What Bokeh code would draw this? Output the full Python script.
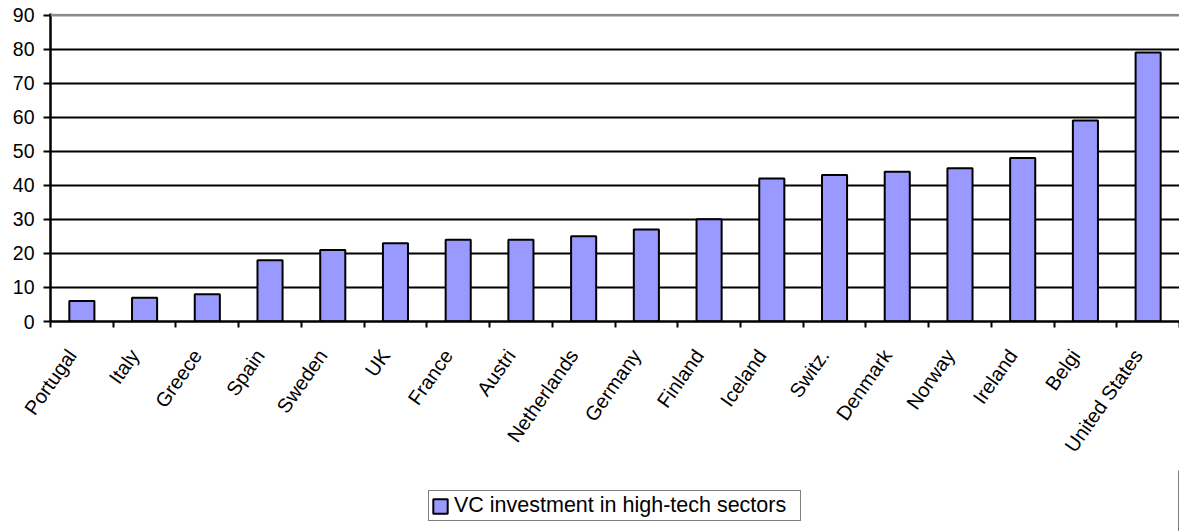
import math
from bokeh.plotting import figure
from bokeh.layouts import column
from bokeh.models import (ColumnDataSource, FixedTicker, Span, Legend, LegendItem)
from bokeh.embed import file_html
from bokeh.resources import INLINE

countries = ["Portugal", "Italy", "Greece", "Spain", "Sweden", "UK", "France",
             "Austri", "Netherlands", "Germany", "Finland", "Iceland", "Switz.",
             "Denmark", "Norway", "Ireland", "Belgi", "United States"]
values = [6, 7, 8, 18, 21, 23, 24, 24, 25, 27, 30, 42, 43, 44, 45, 48, 59, 79]
y_ticks = [0, 10, 20, 30, 40, 50, 60, 70, 80, 90]
series_name = "VC investment in high-tech sectors"

n = len(countries)
centers = [i + 0.5 for i in range(n)]
source = ColumnDataSource(dict(x=centers, top=values, name=countries))

FONT = "Liberation Sans"
BAR_FILL = "#9999FF"
LABEL_SHIFT = 0.16  # rotated labels end slightly left of the bar centre

p = figure(width=1179, height=470, output_backend="svg", toolbar_location=None,
           x_range=(0, n), y_range=(0, 90.45),
           min_border_left=50, min_border_right=0, min_border_top=13,
           min_border_bottom=149)
p.outline_line_color = None
p.background_fill_color = "white"
p.border_fill_color = "white"

# grid
p.xgrid.visible = False
p.ygrid.ticker = FixedTicker(ticks=y_ticks[1:-1])
p.ygrid.grid_line_color = "black"
p.ygrid.grid_line_width = 2
top_line = Span(location=90, dimension="width", line_color="#8c8c8c", line_width=2.8)
p.add_layout(top_line)

r = p.vbar(x="x", top="top", width=0.4, source=source, fill_color=BAR_FILL,
           line_color="black", line_width=2)

# y axis
p.yaxis.ticker = FixedTicker(ticks=y_ticks)
p.yaxis.axis_line_color = "black"
p.yaxis.axis_line_width = 2.5
p.yaxis.major_tick_line_color = "black"
p.yaxis.major_tick_line_width = 2
p.yaxis.major_tick_out = 7
p.yaxis.major_tick_in = 0
p.yaxis.minor_tick_line_color = None
p.yaxis.major_label_text_font = FONT
p.yaxis.major_label_text_font_size = "19.5px"
p.yaxis.major_label_text_color = "black"
p.yaxis.major_label_standoff = 9

# x axis: labels near centres, tick marks at boundaries (minor ticks)
label_pos = [c - LABEL_SHIFT for c in centers]
p.xaxis.ticker = FixedTicker(ticks=label_pos, minor_ticks=list(range(n + 1)))
p.xaxis.major_label_overrides = {c: name for c, name in zip(label_pos, countries)}
p.xaxis.axis_line_color = "black"
p.xaxis.axis_line_width = 2.5
p.xaxis.major_tick_line_color = None
p.xaxis.minor_tick_line_color = "black"
p.xaxis.minor_tick_line_width = 2
p.xaxis.minor_tick_out = 6
p.xaxis.minor_tick_in = 0
p.xaxis.major_label_orientation = math.radians(55)
p.xaxis.major_label_text_font = FONT
p.xaxis.major_label_text_font_size = "20px"
p.xaxis.major_label_text_color = "black"
p.xaxis.major_label_standoff = 24

# legend in its own strip below the chart
q = figure(width=1179, height=61, output_backend="svg", toolbar_location=None,
           x_range=(0, 1), y_range=(0, 1),
           min_border_left=0, min_border_right=0, min_border_top=0,
           min_border_bottom=0)
q.axis.visible = False
q.grid.visible = False
q.outline_line_color = None
q.background_fill_color = "white"
q.border_fill_color = "white"
# legend proxy placed outside the visible range of the strip
lr = q.vbar(x=[5], top=[5], width=0.4, fill_color=BAR_FILL,
            line_color="black", line_width=2)

legend = Legend(items=[LegendItem(label=series_name, renderers=[lr])],
                location=(378, 10), orientation="horizontal",
                label_text_font=FONT, label_text_font_size="21.5px",
                label_text_color="black",
                glyph_width=18, glyph_height=18, label_standoff=5,
                label_width=344,
                padding=2, margin=0, spacing=0,
                border_line_color="black", border_line_width=1.5,
                background_fill_color="white", background_fill_alpha=1)
q.add_layout(legend)

layout = column(p, q, spacing=0)
open("out.html", "w").write(file_html(layout, INLINE))
